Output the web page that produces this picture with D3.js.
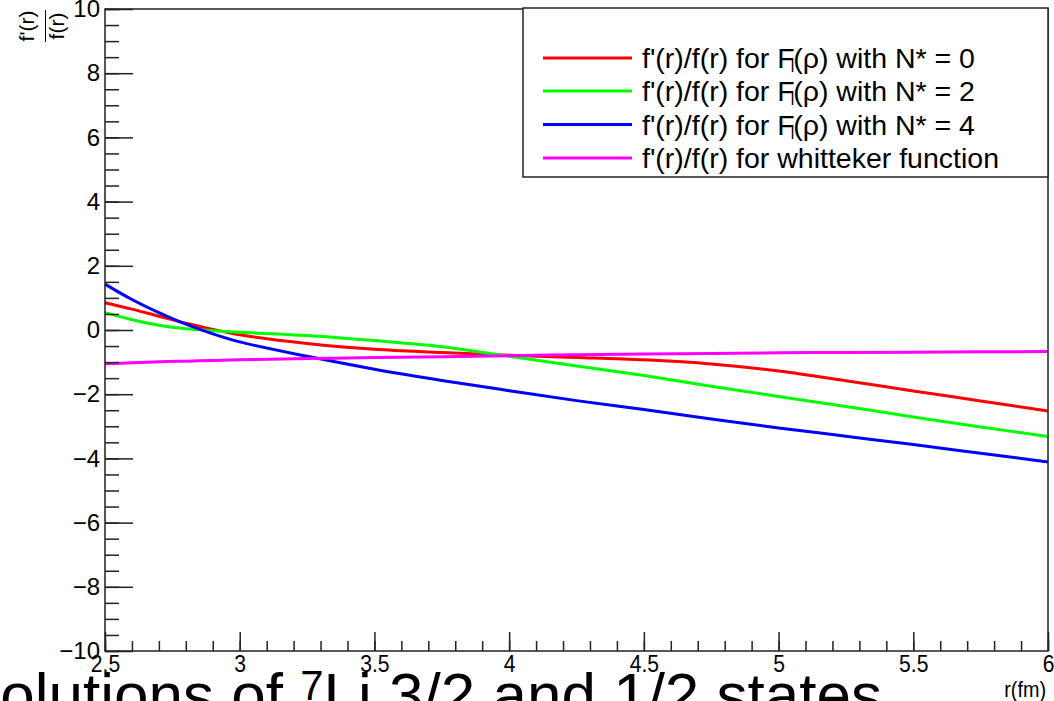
<!DOCTYPE html>
<html>
<head>
<meta charset="utf-8">
<script src="https://cdn.jsdelivr.net/npm/d3@7"></script>
<style>
  html, body { margin: 0; padding: 0; background: #fff; }
  svg { display: block; }
  text { font-family: "Liberation Sans", Arial, Helvetica, sans-serif; fill: #000; }
</style>
</head>
<body>
<svg id="chart" width="1054" height="701"></svg>
<script>
// Sample radii (fm) at which each log-derivative was read
const radius = [2.5, 2.6, 2.7, 2.8, 2.9, 3.0, 3.25, 3.5, 3.75, 4.0, 4.25, 4.5, 4.75, 5.0, 5.25, 5.5, 5.75, 6.0];

// f'(r)/f(r) for F(rho) with N* = 0, 2, 4 and for the Whittaker function
const ratioN0 = [0.85, 0.65, 0.43, 0.21, 0.02, -0.15, -0.42, -0.60, -0.70, -0.79, -0.855, -0.93, -1.06, -1.28, -1.58, -1.90, -2.21, -2.52];
const ratioN2 = [0.54, 0.32, 0.15, 0.04, -0.02, -0.07, -0.17, -0.33, -0.52, -0.82, -1.12, -1.42, -1.75, -2.07, -2.38, -2.71, -3.02, -3.32];
const ratioN4 = [1.43, 0.95, 0.54, 0.18, -0.12, -0.37, -0.82, -1.22, -1.57, -1.89, -2.20, -2.48, -2.77, -3.05, -3.31, -3.57, -3.84, -4.11];
const ratioWhit = [-1.05, -1.02, -0.99, -0.97, -0.95, -0.93, -0.89, -0.86, -0.83, -0.80, -0.77, -0.75, -0.73, -0.71, -0.70, -0.69, -0.68, -0.67];

const seriesLabels = ["N* = 0", "N* = 2", "N* = 4", "whitteker"];
const seriesColors = ["#ff0000", "#00ff00", "#0000ff", "#ff00ff"];

const xMajorTicks = [2.5, 3, 3.5, 4, 4.5, 5, 5.5, 6];
const yMajorTicks = [-10, -8, -6, -4, -2, 0, 2, 4, 6, 8, 10];

const svg = d3.select("#chart");

const frame = { left: 105, right: 1048, top: 9, bottom: 651 };

const x = d3.scaleLinear().domain([2.5, 6]).range([frame.left, frame.right]);
const y = d3.scaleLinear().domain([-10, 10]).range([frame.bottom, frame.top]);

// Curves
const line = d3.line()
  .x(d => x(d[0]))
  .y(d => y(d[1]))
  .curve(d3.curveCatmullRom.alpha(0.5));

const allSeries = [ratioN0, ratioN2, ratioN4, ratioWhit];
svg.append("g").attr("class", "curves")
  .selectAll("path")
  .data(allSeries)
  .join("path")
  .attr("d", vals => line(vals.map((v, i) => [radius[i], v])))
  .attr("fill", "none")
  .attr("stroke", (d, i) => seriesColors[i])
  .attr("stroke-width", 3);

// Frame box
svg.append("rect")
  .attr("x", frame.left).attr("y", frame.top)
  .attr("width", frame.right - frame.left)
  .attr("height", frame.bottom - frame.top)
  .attr("fill", "none").attr("stroke", "#222").attr("stroke-width", 1.5);

// Y axis: inward ticks
const yMinor = d3.range(-10, 10.001, 0.5);
svg.append("g")
  .attr("transform", `translate(${frame.left},0)`)
  .call(d3.axisLeft(y).tickValues(yMinor).tickSizeInner(-14).tickSizeOuter(0).tickFormat(""))
  .call(g => g.select(".domain").remove())
  .call(g => g.selectAll("line").attr("stroke", "#222").attr("stroke-width", 1.5));

svg.append("g")
  .attr("transform", `translate(${frame.left},0)`)
  .call(d3.axisLeft(y).tickValues(yMajorTicks).tickSizeInner(-28).tickSizeOuter(0).tickPadding(5))
  .call(g => g.select(".domain").remove())
  .call(g => g.selectAll("line").attr("stroke", "#222").attr("stroke-width", 1.5))
  .call(g => g.selectAll("text")
    .attr("font-size", 24)
    .attr("font-family", "Liberation Sans, Arial, sans-serif")
    .attr("fill", "#000"));

// X axis: inward ticks
const xMinor = d3.range(2.5, 6.0001, 0.1);
svg.append("g")
  .attr("transform", `translate(0,${frame.bottom})`)
  .call(d3.axisBottom(x).tickValues(xMinor).tickSizeInner(-10).tickSizeOuter(0).tickFormat(""))
  .call(g => g.select(".domain").remove())
  .call(g => g.selectAll("line").attr("stroke", "#222").attr("stroke-width", 1.5));

svg.append("g")
  .attr("transform", `translate(0,${frame.bottom})`)
  .call(d3.axisBottom(x).tickValues(xMajorTicks).tickSizeInner(-19).tickSizeOuter(0).tickPadding(4).tickFormat(d3.format("")))
  .call(g => g.select(".domain").remove())
  .call(g => g.selectAll("line").attr("stroke", "#222").attr("stroke-width", 1.5))
  .call(g => g.selectAll(".tick text")
    .attr("font-size", 24)
    .attr("font-family", "Liberation Sans, Arial, sans-serif")
    .attr("fill", "#000")
    .attr("transform", "scale(0.88,1)"));

// Axis titles
svg.append("text")
  .attr("x", 1046).attr("y", 697)
  .attr("text-anchor", "end")
  .attr("font-size", 22)
  .attr("transform", "translate(1046,0) scale(0.9,1) translate(-1046,0)")
  .text("r(fm)");

const yTitle = svg.append("g").attr("transform", "translate(0,26) rotate(-90)");
yTitle.append("text").attr("x", 0).attr("y", 34).attr("text-anchor", "middle").attr("font-size", 21).text("f'(r)");
yTitle.append("line").attr("x1", -16).attr("x2", 16).attr("y1", 45.5).attr("y2", 45.5)
  .attr("stroke", "#000").attr("stroke-width", 1);
yTitle.append("text").attr("x", 0).attr("y", 64).attr("text-anchor", "middle").attr("font-size", 21).text("f(r)");

// Legend
const legend = svg.append("g").attr("class", "legend");
legend.append("rect")
  .attr("x", 523).attr("y", 8)
  .attr("width", 1048 - 523).attr("height", 177 - 8)
  .attr("fill", "#fff").attr("stroke", "#222").attr("stroke-width", 1.5);

const rowY = [58, 91, 124.5, 158];
const rows = legend.selectAll("g.row")
  .data(seriesLabels)
  .join("g").attr("class", "row")
  .attr("transform", (d, i) => `translate(0,${rowY[i]})`);

rows.append("line")
  .attr("x1", 543).attr("x2", 632).attr("y1", 0).attr("y2", 0)
  .attr("stroke", (d, i) => seriesColors[i]).attr("stroke-width", 3);

rows.each(function(d, i) {
  const t = d3.select(this).append("text")
    .attr("x", 642).attr("y", 10)
    .attr("font-size", 28.5);
  if (i < 3) {
    t.append("tspan").text("f'(r)/f(r) for F");
    t.append("tspan").attr("font-size", 16).attr("dy", 4).attr("dx", -4).text("l");
    t.append("tspan").attr("dy", -4).attr("dx", -1).text(`(ρ) with ${d}`);
  } else {
    t.text("f'(r)/f(r) for whitteker function");
  }
});

// Title along the lower edge
const title = svg.append("text")
  .attr("x", -41).attr("y", 716)
  .attr("font-size", 62);
title.append("tspan").text("Solutions of ");
title.append("tspan").attr("font-size", 42).attr("dy", -16).text("7");
title.append("tspan").attr("dy", 16).text("Li 3/2  and 1/2  states");
</script>
</body>
</html>
